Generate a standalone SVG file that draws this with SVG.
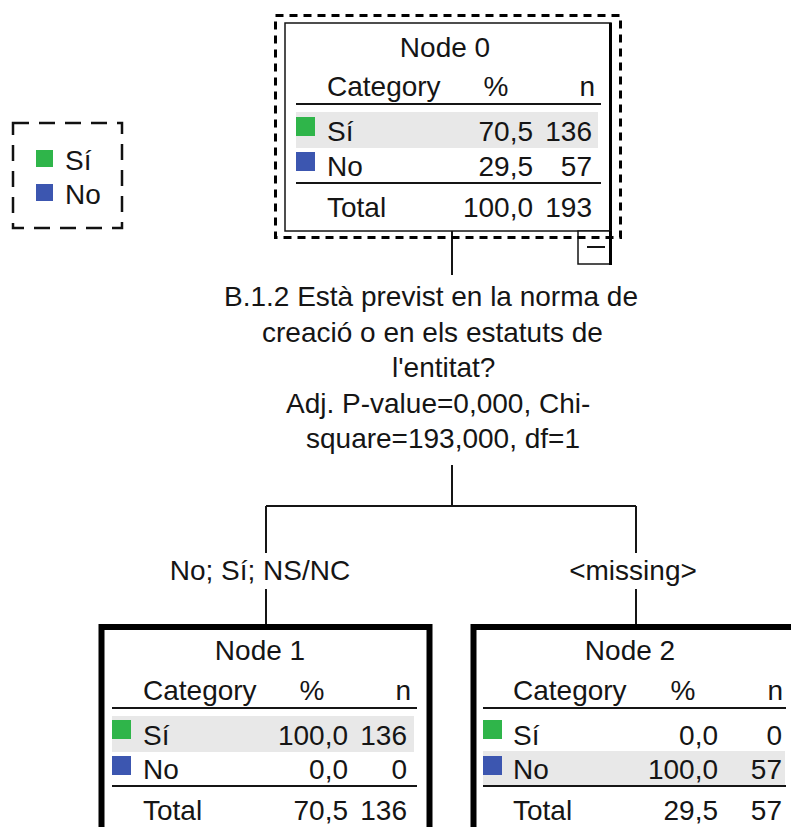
<svg xmlns="http://www.w3.org/2000/svg" width="791" height="827" viewBox="0 0 791 827">
<style>
.t{font-family:"Liberation Sans",Arial,sans-serif;font-size:28px;fill:#151515}
.m{text-anchor:middle}
.e{text-anchor:end}
.sh{fill:#e8e8e8}
.g{fill:#2fb54a}
.b{fill:#3c56b0}
.ln{stroke:#151515;stroke-width:2;fill:none}
.box{fill:#fff;stroke:#000;stroke-width:6}
</style>
<rect width="791" height="827" fill="#fff"/>

<g id="legend">
<rect x="13" y="123" width="109" height="105" fill="none" stroke="#111" stroke-width="2.5" stroke-dasharray="16 10"/>
<rect class="g" x="36" y="150" width="17" height="17"/>
<text class="t" x="65" y="170">Sí</text>
<rect class="b" x="36" y="184" width="17" height="17"/>
<text class="t" x="65" y="204">No</text>
</g>

<g id="connectors">
<line class="ln" x1="452" y1="231" x2="452" y2="275"/>
<line class="ln" x1="452" y1="465" x2="452" y2="506"/>
<line class="ln" x1="266" y1="506" x2="636" y2="506"/>
<line class="ln" x1="266" y1="506" x2="266" y2="553"/>
<line class="ln" x1="266" y1="589" x2="266" y2="625"/>
<line class="ln" x1="636" y1="506" x2="636" y2="553"/>
<line class="ln" x1="636" y1="589" x2="636" y2="625"/>
<text class="t m" x="260" y="580">No; Sí; NS/NC</text>
<text class="t m" x="633" y="580">&lt;missing&gt;</text>
</g>

<g id="split">
<text class="t" x="224" y="306">B.1.2 Està previst en la norma de</text>
<text class="t" x="262" y="342">creació o en els estatuts de</text>
<text class="t" x="392" y="377">l'entitat?</text>
<text class="t" x="286" y="413">Adj. P-value=0,000, Chi-</text>
<text class="t" x="306" y="448">square=193,000, df=1</text>
</g>

<g id="node0">
<rect x="285" y="23" width="326" height="208" fill="#fff" stroke="#151515" stroke-width="1.5"/>
<line x1="610.5" y1="23" x2="610.5" y2="232" stroke="#000" stroke-width="3"/>
<text class="t m" x="445" y="57">Node 0</text>
<text class="t" x="327" y="96">Category</text>
<text class="t m" x="496" y="96">%</text>
<text class="t e" x="595" y="96">n</text>
<line class="ln" x1="296" y1="104" x2="601" y2="104"/>
<rect class="sh" x="296" y="112" width="302" height="36"/>
<rect class="g" x="296" y="117" width="19" height="19"/>
<text class="t" x="327" y="141">Sí</text>
<text class="t e" x="533" y="141">70,5</text>
<text class="t e" x="592" y="141">136</text>
<rect class="b" x="296" y="152" width="19" height="19"/>
<text class="t" x="327" y="176">No</text>
<text class="t e" x="533" y="176">29,5</text>
<text class="t e" x="592" y="176">57</text>
<line class="ln" x1="296" y1="183" x2="601" y2="183"/>
<text class="t" x="327" y="217">Total</text>
<text class="t e" x="533" y="217">100,0</text>
<text class="t e" x="592" y="217">193</text>
<rect x="578" y="231" width="33" height="33" fill="#fff" stroke="#151515" stroke-width="1.5"/>
<line x1="610.5" y1="231" x2="610.5" y2="265" stroke="#000" stroke-width="3"/>
<line x1="587" y1="247" x2="605" y2="247" stroke="#151515" stroke-width="2"/>
<rect x="275.5" y="15.5" width="345" height="222" fill="none" stroke="#000" stroke-width="3" stroke-dasharray="8 6"/>
</g>

<g id="node1">
<rect class="box" x="101.5" y="627" width="328" height="240"/>
<text class="t m" x="260" y="660">Node 1</text>
<text class="t" x="143" y="700">Category</text>
<text class="t m" x="312" y="700">%</text>
<text class="t e" x="411" y="700">n</text>
<line class="ln" x1="112" y1="708" x2="417" y2="708"/>
<rect class="sh" x="112" y="716" width="302" height="36"/>
<rect class="g" x="112" y="720" width="19" height="19"/>
<text class="t" x="143" y="745">Sí</text>
<text class="t e" x="348" y="745">100,0</text>
<text class="t e" x="407" y="745">136</text>
<rect class="b" x="112" y="756" width="19" height="19"/>
<text class="t" x="143" y="779">No</text>
<text class="t e" x="348" y="779">0,0</text>
<text class="t e" x="407" y="779">0</text>
<line class="ln" x1="112" y1="786" x2="417" y2="786"/>
<text class="t" x="143" y="820">Total</text>
<text class="t e" x="348" y="820">70,5</text>
<text class="t e" x="407" y="820">136</text>
</g>

<g id="node2">
<rect class="box" x="473.5" y="627" width="328" height="240"/>
<text class="t m" x="630" y="660">Node 2</text>
<text class="t" x="513" y="700">Category</text>
<text class="t m" x="683" y="700">%</text>
<text class="t e" x="783" y="700">n</text>
<line class="ln" x1="483" y1="708" x2="786" y2="708"/>
<rect class="sh" x="483" y="751" width="302" height="35"/>
<rect class="g" x="483" y="720" width="19" height="19"/>
<text class="t" x="513" y="745">Sí</text>
<text class="t e" x="718" y="745">0,0</text>
<text class="t e" x="782" y="745">0</text>
<rect class="b" x="483" y="756" width="19" height="19"/>
<text class="t" x="513" y="779">No</text>
<text class="t e" x="718" y="779">100,0</text>
<text class="t e" x="782" y="779">57</text>
<line class="ln" x1="483" y1="786" x2="786" y2="786"/>
<text class="t" x="513" y="820">Total</text>
<text class="t e" x="718" y="820">29,5</text>
<text class="t e" x="782" y="820">57</text>
</g>
</svg>
